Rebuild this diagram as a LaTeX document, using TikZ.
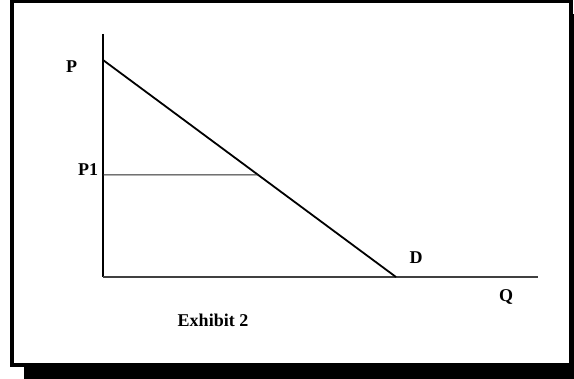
\documentclass[tikz,border=0pt]{standalone}
\usepackage{fontspec}
\setmainfont{Liberation Serif}
\usetikzlibrary{calc}

\begin{document}
\begin{tikzpicture}[x=1pt,y=-1pt,thick]
\tikzset{
  lbl/.style={font=\bfseries\fontsize{18}{20}\selectfont, inner sep=0pt, anchor=base},
  frame/.style={draw, line width=4pt, fill=white},
  yaxis/.style={draw, line width=2pt},
  xaxis/.style={draw, line width=1.3pt, black!75},
  demand/.style={draw, line width=1.8pt},
  level/.style={draw, line width=1pt, black!85}
}
\useasboundingbox (0,0) rectangle (574,379);

% Frame with drop shadow
\fill (24,14) rectangle (574,379);
\draw[frame] (12,1.5) rectangle (571,365);

% Axes and curve points
\coordinate (ytop) at (103,34);
\coordinate (origin) at (103,277);
\coordinate (xend) at (538,277);
\coordinate (pmax) at (103,60);
\coordinate (dend) at (396,277);
\coordinate (pone) at (103,175);
\coordinate (poneend) at (intersection of pone--{(400,175)} and pmax--dend);

% Lines
\draw[yaxis] (ytop) -- (origin);
\draw[xaxis] (origin) -- (xend);
\draw[demand] (pmax) -- (dend);
\draw[level] (pone) -- (poneend);

% Labels
\node[lbl] (plabel) at (71.5,73) {P};
\node[lbl] (ponelabel) at (88,176) {P1};
\node[lbl] (dlabel) at (416,264) {D};
\node[lbl] (qlabel) at (506,302) {Q};
\node[lbl] (caption) at (213,327) {Exhibit 2};
\end{tikzpicture}
\end{document}
